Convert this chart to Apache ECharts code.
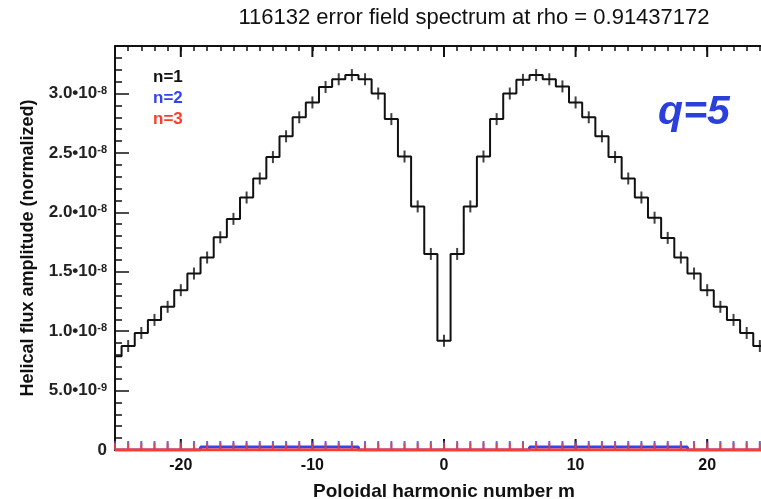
<!DOCTYPE html>
<html><head><meta charset="utf-8">
<script src="https://cdn.jsdelivr.net/npm/echarts@6/dist/echarts.min.js"></script>
<style>html,body{margin:0;padding:0;background:#fff}#c{width:761px;height:499px}</style>
</head><body><div id="c"></div>
<script>
// ---- data (amplitudes in units of 1e-8) ----
const harmonicM = [-25,-24,-23,-22,-21,-20,-19,-18,-17,-16,-15,-14,-13,-12,-11,-10,-9,-8,-7,-6,-5,-4,-3,-2,-1,
  0,1,2,3,4,5,6,7,8,9,10,11,12,13,14,15,16,17,18,19,20,21,22,23,24,25];
const ampN1 = [0.79,0.875,0.985,1.095,1.205,1.345,1.485,1.62,1.79,1.945,2.125,2.285,2.465,2.64,2.80,2.925,3.055,3.12,3.155,3.12,3.0,2.785,2.47,2.05,1.65,
  0.92,
  1.65,2.05,2.47,2.785,3.0,3.115,3.155,3.12,3.06,2.925,2.80,2.64,2.465,2.285,2.125,1.955,1.785,1.62,1.485,1.345,1.205,1.095,0.985,0.875,0.79];
const ampN2 = [0,0,0,0,0,0,0,0.025,0.025,0.025,0.025,0.025,0.025,0.025,0.025,0.025,0.025,0.025,0.025,0,0,0,0,0,0,
  0,
  0,0,0,0,0,0,0.025,0.025,0.025,0.025,0.025,0.025,0.025,0.025,0.025,0.025,0.025,0.025,0,0,0,0,0,0,0];
const ampN3 = [0,0,0,0,0,0,0,0,0,0,0,0,0,0,0,0,0,0,0,0,0,0,0,0,0,
  0,
  0,0,0,0,0,0,0,0,0,0,0,0,0,0,0,0,0,0,0,0,0,0,0,0,0];
const xMajorTicks = [-20,-10,0,10,20];
const yTickValues = [0,0.5,1.0,1.5,2.0,2.5,3.0];
const yTickMantissa = ['0','5.0\u202210','1.0\u202210','1.5\u202210','2.0\u202210','2.5\u202210','3.0\u202210'];
const yTickExponent = ['','-9','-8','-8','-8','-8','-8'];
const seriesNames = ['n=1','n=2','n=3'];
const titleText = '116132 error field spectrum at rho = 0.91437172';
const noteText = 'q=5';

const FONT = "'Liberation Sans', Arial, Helvetica, sans-serif";
const C1 = '#111111', C2 = '#3344ee', C3 = '#ff3b2b';
const X_MIN = -25, X_MAX = 25, Y_MIN = 0, Y_MAX = 3.4;

const pairs = arr => harmonicM.map((m, i) => [m, arr[i]]);

const chart = echarts.init(document.getElementById('c'), null, {renderer: 'canvas'});
const option = {
  animation: false,
  backgroundColor: '#fff',
  grid: {left: 115, right: -12, top: 46, bottom: 49, containLabel: false, outerBoundsMode: 'none'},
  legend: {
    show: true, orient: 'vertical', left: 143, top: 64, icon: 'none',
    itemWidth: 0, itemHeight: 17, itemGap: 4, selectedMode: false,
    textStyle: {fontSize: 17, fontWeight: 'bold', fontFamily: FONT},
    data: [
      {name: seriesNames[0], textStyle: {color: C1}},
      {name: seriesNames[1], textStyle: {color: C2}},
      {name: seriesNames[2], textStyle: {color: C3}}
    ]
  },
  graphic: [
    {type: 'text', x: 474, y: 18, z: 10,
     style: {text: titleText, align: 'center', verticalAlign: 'middle', textAlign: 'center', textVerticalAlign: 'middle',
             fontSize: 22, fontFamily: FONT, fill: '#111'}},
    {type: 'text', x: 694, y: 113, z: 10,
     style: {text: noteText, align: 'center', verticalAlign: 'middle', textAlign: 'center', textVerticalAlign: 'middle',
             fontSize: 41, fontWeight: 'bold', fontStyle: 'italic', fontFamily: FONT, fill: '#2a3fdc'}}
  ],
  xAxis: [
    {type: 'value', position: 'bottom', min: X_MIN, max: X_MAX, interval: 1,
     name: 'Poloidal harmonic number m', nameLocation: 'middle', nameGap: 32,
     nameTextStyle: {fontSize: 19, fontWeight: 'bold', fontFamily: FONT, color: '#111'},
     axisLine: {show: true, onZero: false, lineStyle: {color: C1, width: 2}},
     axisTick: {show: false},
     axisLabel: {show: true, margin: 8, fontSize: 16, fontWeight: 'bold', fontFamily: FONT, color: '#111',
       formatter: v => (xMajorTicks.indexOf(Math.round(v)) >= 0 && Math.abs(v - Math.round(v)) < 1e-6) ? String(Math.round(v)) : ''},
     splitLine: {show: false}},
    {type: 'value', position: 'top', min: X_MIN, max: X_MAX, interval: 1,
     axisLine: {show: true, onZero: false, lineStyle: {color: C1, width: 2}},
     axisTick: {show: true, inside: true, length: 5, lineStyle: {color: C1, width: 1.5}},
     axisLabel: {show: false}, splitLine: {show: false}}
  ],
  yAxis: [
    {type: 'value', position: 'left', min: Y_MIN, max: Y_MAX, interval: 0.5,
     name: 'Helical flux amplitude (normalized)', nameLocation: 'middle', nameGap: 78, nameRotate: 90,
     nameTextStyle: {fontSize: 18, fontWeight: 'bold', fontFamily: FONT, color: '#111'},
     axisLine: {show: true, onZero: false, lineStyle: {color: C1, width: 2}},
     axisTick: {show: true, inside: true, length: 14, lineStyle: {color: C1, width: 1.5}},
     axisLabel: {show: true, margin: 8,
       formatter: v => {
         const i = yTickValues.findIndex(t => Math.abs(t - v) < 1e-6);
         if (i < 0) return '';
         return '{m|' + yTickMantissa[i] + '}' + (yTickExponent[i] ? '{e|' + yTickExponent[i] + '}' : '');
       },
       rich: {
         m: {fontSize: 17, fontWeight: 'bold', fontFamily: FONT, color: '#222'},
         e: {fontSize: 11, fontWeight: 'bold', fontFamily: FONT, color: '#222', verticalAlign: 'top'}
       }},
     splitLine: {show: false}},
    {type: 'value', position: 'left', min: Y_MIN, max: Y_MAX, interval: 0.1,
     axisLine: {show: false, onZero: false},
     axisTick: {show: true, inside: true, length: 7, lineStyle: {color: C1, width: 1.5}},
     axisLabel: {show: false}, splitLine: {show: false}}
  ],
  series: [
    {type: 'custom', name: 'majorTicks', xAxisIndex: 0, yAxisIndex: 0, z: 1, silent: true,
     data: xMajorTicks.map(v => [v, 0]),
     renderItem: (params, api) => {
       const v = api.value(0);
       const b = api.coord([v, Y_MIN]);
       const t = api.coord([v, Y_MAX]);
       const st = {stroke: C1, lineWidth: 2};
       return {type: 'group', children: [
         {type: 'line', shape: {x1: b[0], y1: b[1], x2: b[0], y2: b[1] - 11}, style: st},
         {type: 'line', shape: {x1: t[0], y1: t[1], x2: t[0], y2: t[1] + 11}, style: st}
       ]};
     }},
    {type: 'line', name: seriesNames[0], step: 'middle', data: pairs(ampN1), symbol: 'none',
     lineStyle: {color: C1, width: 2}, itemStyle: {color: C1}, z: 3},
    {type: 'scatter', name: seriesNames[0], data: pairs(ampN1), symbol: 'rect', symbolSize: [2, 12],
     itemStyle: {color: C1}, z: 3, clip: false},
    {type: 'line', name: seriesNames[1], step: 'middle', data: pairs(ampN2), symbol: 'none',
     lineStyle: {color: C2, width: 3}, itemStyle: {color: C2}, z: 4},
    {type: 'scatter', name: seriesNames[1], data: pairs(ampN2).map(p => [p[0], 0]), symbol: 'rect', symbolSize: [2, 9],
     symbolOffset: [0, '-50%'], itemStyle: {color: C2}, z: 4, clip: false},
    {type: 'line', name: seriesNames[2], step: 'middle', data: pairs(ampN3), symbol: 'none',
     lineStyle: {color: C3, width: 3}, itemStyle: {color: C3}, z: 5},
    {type: 'scatter', name: seriesNames[2], data: pairs(ampN3), symbol: 'rect', symbolSize: [2, 7],
     symbolOffset: [0, '-50%'], itemStyle: {color: C3}, z: 5, clip: false}
  ]
};
chart.setOption(option);
</script>
</body></html>
